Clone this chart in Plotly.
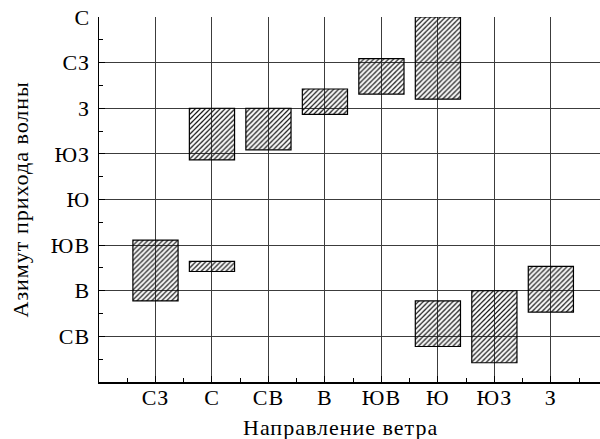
import plotly.graph_objects as go

# Wind directions (x categories)
wind_dirs = ["СЗ", "С", "СВ", "В", "ЮВ", "Ю", "ЮЗ", "З"]

# Wave-arrival azimuth ranges (degrees) for each segment
seg_wind = ["СЗ", "С", "С", "СВ", "В", "ЮВ", "Ю", "Ю", "ЮЗ", "З"]
seg_low = [80, 109, 219, 229, 264, 284, 279, 35, 19, 69]
seg_high = [140, 119, 270, 270, 289, 319, 360, 80, 90, 114]

# Y-axis tick labels (azimuth, degrees)
az_vals = [0, 45, 90, 135, 180, 225, 270, 315, 360]
az_text = ["", "СВ", "В", "ЮВ", "Ю", "ЮЗ", "З", "СЗ", "С"]

x_title = "Направление ветра"
y_title = "Азимут прихода волны"

FONT = "Liberation Serif"


def spaced(s, px=1):
    if not s:
        return s
    return (f'<span style="font-family:Liberation Serif, serif;'
            f'letter-spacing:{px}px">{s}</span>')


xpos = [wind_dirs.index(w) + 1 for w in seg_wind]
heights = [h - l for h, l in zip(seg_high, seg_low)]

fig = go.Figure()
fig.add_trace(go.Bar(
    x=xpos,
    y=heights,
    base=seg_low,
    width=0.8,
    marker=dict(
        color="rgba(255,255,255,0)",
        line=dict(color="black", width=1.2),
        pattern=dict(shape="/", fgcolor="#111", bgcolor="rgba(255,255,255,0)",
                     size=3.5, solidity=0.35, fillmode="replace"),
    ),
    hoverinfo="skip",
))

grid = "#3c3c3c"
fig.update_layout(
    width=600, height=439,
    margin=dict(l=99, r=0, t=17, b=57),
    plot_bgcolor="white", paper_bgcolor="white",
    showlegend=False,
    font=dict(family=FONT, size=22, color="black"),
    xaxis=dict(
        range=[0, 8.87],
        tickvals=list(range(1, len(wind_dirs) + 1)),
        ticktext=[spaced(t) for t in wind_dirs],
        showgrid=True, gridcolor=grid, gridwidth=1,
        zeroline=False,
        showline=True, linecolor="black", linewidth=1.5,
        ticks="inside", ticklen=6, tickcolor="black",
        minor=dict(tick0=0.5, dtick=1, ticks="inside", ticklen=4,
                   tickcolor="black", showgrid=False),
        tickfont=dict(family=FONT, size=22),
        ticklabelstandoff=-5,
        ticklabeloverflow="allow",
        automargin=False,
        fixedrange=True,
    ),
    yaxis=dict(
        range=[0, 360],
        tickvals=az_vals,
        ticktext=[spaced(t) for t in az_text],
        showgrid=True, gridcolor=grid, gridwidth=1,
        zeroline=False,
        showline=True, linecolor="black", linewidth=1.5,
        ticks="inside", ticklen=6, tickcolor="black",
        minor=dict(tick0=22.5, dtick=45, ticks="inside", ticklen=4,
                   tickcolor="black", showgrid=False),
        tickfont=dict(family=FONT, size=22),
        ticklabelstandoff=3,
        ticklabeloverflow="allow",
        automargin=False,
        fixedrange=True,
    ),
    annotations=[
        dict(text=spaced(x_title), xref="paper", yref="paper", x=0.483, y=0,
             yshift=-45, xanchor="center", yanchor="middle", showarrow=False,
             font=dict(family=FONT, size=22)),
        dict(text=spaced(y_title), xref="paper", yref="paper", x=0, xshift=-79,
             y=0.5, xanchor="center", yanchor="middle", textangle=-90,
             showarrow=False, font=dict(family=FONT, size=22)),
    ],
)

fig.write_html(
    "out.html",
    config={"displayModeBar": False, "staticPlot": True},
    post_script="document.body.style.margin='0';document.body.style.overflow='hidden';",
)
